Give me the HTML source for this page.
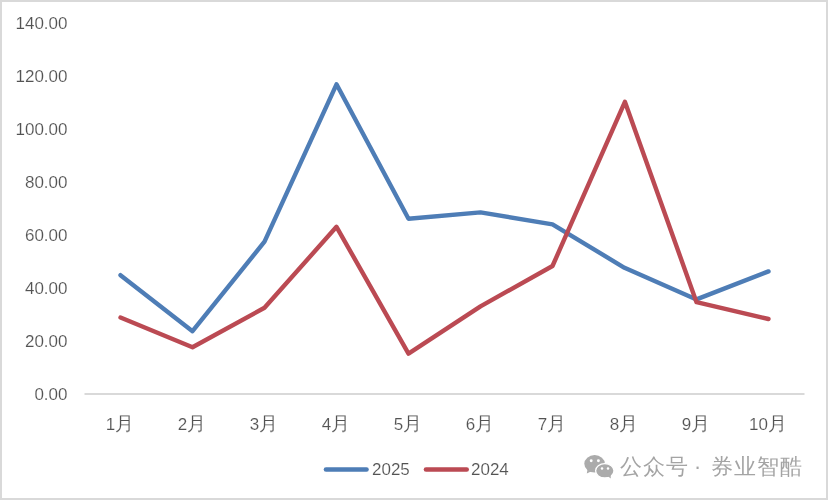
<!DOCTYPE html>
<html><head><meta charset="utf-8"><style>
html,body{margin:0;padding:0;background:#fff;}
body{width:828px;height:500px;overflow:hidden;position:relative;}
svg{position:absolute;left:0;top:0;will-change:transform;}
text{font-family:"Liberation Sans",sans-serif;font-size:17px;fill:#535353;stroke:#fff;stroke-width:0.15px;}
.yue{font-size:19px;font-weight:400;}
.wm{font-size:21.5px;fill:#a4a4a4;stroke:none;letter-spacing:1.15px;}
</style></head><body>
<svg width="828" height="500" viewBox="0 0 828 500">
<rect x="1" y="1" width="826" height="498" fill="#fff" stroke="#d9d9d9" stroke-width="2"/>
<line x1="84.5" y1="394" x2="804.5" y2="394" stroke="#d9d9d9" stroke-width="2"/>
<text x="67.5" y="28.5" text-anchor="end">140.00</text><text x="67.5" y="81.6" text-anchor="end">120.00</text><text x="67.5" y="134.6" text-anchor="end">100.00</text><text x="67.5" y="187.7" text-anchor="end">80.00</text><text x="67.5" y="240.8" text-anchor="end">60.00</text><text x="67.5" y="293.9" text-anchor="end">40.00</text><text x="67.5" y="346.9" text-anchor="end">20.00</text><text x="67.5" y="400.0" text-anchor="end">0.00</text><text x="120.0" y="430.3" text-anchor="middle">1<tspan class="yue">月</tspan></text><text x="192.0" y="430.3" text-anchor="middle">2<tspan class="yue">月</tspan></text><text x="264.0" y="430.3" text-anchor="middle">3<tspan class="yue">月</tspan></text><text x="336.0" y="430.3" text-anchor="middle">4<tspan class="yue">月</tspan></text><text x="408.0" y="430.3" text-anchor="middle">5<tspan class="yue">月</tspan></text><text x="480.0" y="430.3" text-anchor="middle">6<tspan class="yue">月</tspan></text><text x="552.0" y="430.3" text-anchor="middle">7<tspan class="yue">月</tspan></text><text x="624.0" y="430.3" text-anchor="middle">8<tspan class="yue">月</tspan></text><text x="696.0" y="430.3" text-anchor="middle">9<tspan class="yue">月</tspan></text><text x="768.0" y="430.3" text-anchor="middle">10<tspan class="yue">月</tspan></text>
<polyline points="120.50,275.20 192.50,331.20 264.50,241.70 336.50,84.30 408.50,218.70 480.50,212.40 552.50,224.30 624.50,267.80 696.50,299.40 768.50,271.40" fill="none" stroke="#4e7db6" stroke-width="4.4" stroke-linejoin="round" stroke-linecap="round"/>
<polyline points="120.50,317.50 192.50,347.20 264.50,307.80 336.50,226.80 408.50,353.70 480.50,306.30 552.50,266.00 624.90,101.80 696.50,302.20 768.50,319.00" fill="none" stroke="#bb4a53" stroke-width="4.4" stroke-linejoin="round" stroke-linecap="round"/>
<line x1="326" y1="469.5" x2="366.5" y2="469.5" stroke="#4e7db6" stroke-width="4.6" stroke-linecap="round"/>
<text x="372" y="475.3">2025</text>
<line x1="426" y1="469.5" x2="466.7" y2="469.5" stroke="#bb4a53" stroke-width="4.6" stroke-linecap="round"/>
<text x="471" y="475.3">2024</text>
<g fill="#ababab">
<ellipse cx="594.6" cy="463.8" rx="10.3" ry="8.7"/>
<path d="M587.5 469.5 L586.8 473.6 L591.5 471.2 Z"/>
<ellipse cx="604.8" cy="470.8" rx="9.2" ry="7.2" stroke="#fff" stroke-width="1.3"/>
<path d="M607.5 476 L610.8 478.6 L610.6 474 Z"/>
</g>
<g fill="#fff">
<circle cx="591.2" cy="460.8" r="1.45"/><circle cx="598.4" cy="460.8" r="1.45"/>
<circle cx="602" cy="468.6" r="1.25"/><circle cx="608" cy="468.6" r="1.25"/>
</g>
<text class="wm" x="620" y="473.9">公众号</text>
<text class="wm" x="697.7" y="473.9" text-anchor="middle" style="letter-spacing:0">·</text>
<text class="wm" x="711" y="473.9">券业智酷</text>
</svg>
</body></html>
